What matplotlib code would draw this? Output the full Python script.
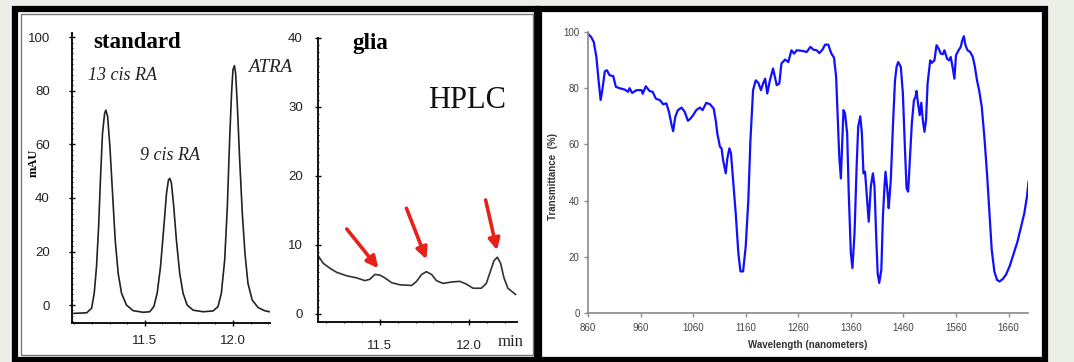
import matplotlib
matplotlib.use("Agg")
import matplotlib.pyplot as plt
from matplotlib.patches import Rectangle
from matplotlib.ticker import MultipleLocator

# ---------------- data ----------------
# HPLC "standard" chromatogram (time in min, signal in mAU)
std_time = [11.098, 11.17, 11.198, 11.213, 11.226, 11.238, 11.249, 11.26, 11.272, 11.279,
            11.289, 11.302, 11.317, 11.332, 11.349, 11.368, 11.396, 11.434, 11.49, 11.528,
            11.551, 11.57, 11.589, 11.608, 11.623, 11.634, 11.642, 11.651, 11.664, 11.679,
            11.698, 11.717, 11.74, 11.774, 11.83, 11.887, 11.915, 11.934, 11.953, 11.968,
            11.981, 11.992, 12.0, 12.008, 12.015, 12.025, 12.038, 12.053, 12.068, 12.085,
            12.109, 12.142, 12.179, 12.208]
std_mau = [-3.1, -2.9, -1.2, 4.4, 14.3, 29.3, 48.0, 64.1, 71.6, 72.8,
           70.4, 59.2, 41.7, 24.3, 11.8, 4.4, 0.0, -2.1, -2.7, -2.5,
           -0.6, 4.4, 14.3, 29.3, 41.7, 46.7, 47.3, 45.5, 36.8, 24.3,
           11.8, 4.4, 0.0, -1.9, -2.5, -2.2, -0.6, 4.4, 16.8, 36.8,
           61.7, 79.2, 87.9, 89.4, 86.6, 74.2, 54.2, 34.2, 19.3, 8.1,
           1.9, -0.9, -2.1, -2.5]
std_labels = ["13 cis RA", "9 cis RA", "ATRA"]

# HPLC "glia" chromatogram
glia_time = [11.157, 11.183, 11.22, 11.258, 11.314, 11.37, 11.416, 11.444, 11.472, 11.5,
             11.528, 11.566, 11.612, 11.678, 11.706, 11.734, 11.761, 11.79, 11.817, 11.854,
             11.901, 11.948, 11.985, 12.022, 12.069, 12.097, 12.119, 12.14, 12.159, 12.177,
             12.196, 12.218, 12.246, 12.261]
glia_mau = [8.3, 7.3, 6.6, 6.0, 5.5, 5.2, 4.8, 5.0, 5.7, 5.6,
            5.2, 4.5, 4.2, 4.1, 4.7, 5.7, 6.1, 5.7, 4.8, 4.4,
            4.6, 4.7, 4.3, 3.7, 3.7, 4.4, 6.1, 7.7, 8.2, 7.3,
            5.2, 3.7, 3.1, 2.8]
# arrows: (tail time, tail mAU, head time, head mAU)
arrow_tail_t = [11.314, 11.649, 12.093]
arrow_tail_y = [12.3, 15.3, 16.5]
arrow_head_t = [11.491, 11.761, 12.157]
arrow_head_y = [6.6, 7.9, 9.2]

# NIR transmittance spectrum
wl = [860, 866, 871, 876, 880, 884, 887, 892, 896, 901, 908, 913, 920, 930, 936, 939, 944,
      952, 962, 964, 970, 977, 983, 989, 997, 1003, 1009, 1014, 1019, 1022, 1026, 1031,
      1038, 1044, 1050, 1055, 1060, 1066, 1073, 1078, 1085, 1092, 1099, 1103, 1106, 1111,
      1114, 1117, 1122, 1125, 1129, 1132, 1136, 1141, 1146, 1150, 1155, 1160, 1165, 1169,
      1174, 1179, 1184, 1189, 1193, 1197, 1201, 1206, 1212, 1219, 1224, 1228, 1235, 1241,
      1247, 1252, 1257, 1267, 1276, 1283, 1289, 1295, 1300, 1306, 1311, 1317, 1323, 1328,
      1332, 1335, 1338, 1341, 1343, 1346, 1349, 1353, 1356, 1360, 1363, 1367, 1371, 1374,
      1378, 1381, 1384, 1387, 1390, 1394, 1398, 1402, 1405, 1408, 1411, 1414, 1418, 1421,
      1424, 1426, 1430, 1432, 1436, 1440, 1444, 1447, 1450, 1455, 1459, 1463, 1466, 1469,
      1473, 1476, 1480, 1483, 1485, 1487, 1491, 1494, 1497, 1500, 1503, 1506, 1511, 1514,
      1519, 1523, 1527, 1531, 1535, 1538, 1543, 1547, 1550, 1554, 1557, 1560, 1565, 1569,
      1572, 1575, 1578, 1582, 1587, 1592, 1596, 1600, 1604, 1609, 1614, 1619, 1624, 1628,
      1633, 1638, 1643, 1649, 1655, 1662, 1670, 1677, 1684, 1690, 1695, 1698]
trans = [99.4, 98.2, 96.4, 91.0, 83.0, 75.8, 79.0, 86.0, 86.4, 84.6, 84.3, 80.5, 80.0, 79.5,
         78.7, 80.0, 78.3, 79.3, 79.3, 78.0, 80.7, 79.0, 78.7, 76.3, 75.7, 74.3, 74.6, 71.6,
         66.9, 64.7, 69.8, 72.2, 73.1, 71.6, 68.4, 69.2, 70.4, 72.2, 73.1, 72.2, 74.8, 74.3,
         72.8, 68.6, 63.9, 59.2, 58.6, 54.4, 49.7, 55.0, 58.6, 56.8, 47.3, 35.5, 21.3, 14.8,
         14.8, 23.7, 40.2, 61.5, 79.3, 82.8, 81.9, 79.3, 81.7, 83.4, 78.1, 82.8, 87.0, 81.1,
         81.7, 88.8, 90.2, 89.3, 93.5, 92.3, 93.5, 93.3, 92.9, 94.7, 93.7, 93.5, 92.5, 93.7,
         95.5, 95.5, 92.3, 90.9, 84.0, 69.8, 55.6, 47.9, 58.0, 72.2, 71.0, 63.9, 42.6, 21.3,
         16.0, 28.4, 52.0, 66.3, 70.0, 63.9, 49.7, 50.3, 42.6, 32.5, 45.0, 49.7, 45.0, 28.4,
         14.2, 10.7, 15.4, 34.3, 45.0, 50.3, 42.6, 37.3, 47.3, 66.3, 82.8, 87.6, 89.3, 87.6,
         78.1, 58.0, 44.4, 43.2, 56.8, 67.5, 75.7, 76.9, 79.0, 75.7, 70.4, 74.8, 68.6, 64.5,
         68.6, 81.7, 89.9, 89.0, 89.9, 95.3, 94.1, 92.3, 92.1, 93.5, 90.5, 89.9, 91.1, 87.0,
         83.4, 91.7, 93.5, 94.7, 97.0, 98.5, 95.3, 93.5, 92.9, 91.1, 87.6, 82.8, 79.3, 73.4,
         62.7, 49.7, 34.3, 22.5, 14.8, 11.8, 11.2, 12.1, 13.6, 16.6, 21.3, 25.4, 30.8, 35.5,
         41.4, 46.7]
wl_ticks = [860, 960, 1060, 1160, 1260, 1360, 1460, 1560, 1660]
trans_ticks = [0, 20, 40, 60, 80, 100]

# ---------------- figure ----------------
W, H = 1074, 362
fig = plt.figure(figsize=(W / 100, H / 100), dpi=100)
fig.patch.set_facecolor("#eceee8")


def rect(x0, y0, x1, y1):
    """figure fraction rect from pixel box (top-left origin)"""
    return [x0 / W, 1 - y1 / H, (x1 - x0) / W, (y1 - y0) / H]


# background / panel frames (pixel coordinates)
bg = fig.add_axes([0, 0, 1, 1])
bg.set_xlim(0, W)
bg.set_ylim(H, 0)
bg.axis("off")
bg.add_patch(Rectangle((15, 8.5), 522, 351, facecolor="white", edgecolor="black", lw=4.5))
bg.add_patch(Rectangle((21, 14), 512, 341, facecolor="none", edgecolor="#777777", lw=1.0))
bg.add_patch(Rectangle((539, 8.5), 506, 351, facecolor="white", edgecolor="black", lw=4.5))

serif = ["Liberation Serif", "DejaVu Serif"]
sans = ["Liberation Sans", "DejaVu Sans"]

# ---------------- standard chromatogram ----------------
ax1 = fig.add_axes(rect(72, 33, 270, 323))
ax1.set_facecolor("none")
ax1.plot(std_time, std_mau, color="#222222", lw=1.2)
ax1.set_xlim(11.087, 12.21)
ax1.set_ylim(-6.7, 101.6)
for s in ["top", "right"]:
    ax1.spines[s].set_visible(False)
for s in ["left", "bottom"]:
    ax1.spines[s].set_linewidth(1.4)
    ax1.spines[s].set_color("#111111")
ax1.xaxis.set_minor_locator(MultipleLocator(0.1))
ax1.yaxis.set_major_locator(MultipleLocator(20))
ax1.yaxis.set_minor_locator(MultipleLocator(2))
ax1.set_xticks([11.5, 12.0])
ax1.set_xticklabels(["11.5", "12.0"])
ax1.tick_params(axis="y", which="major", direction="inout", length=4, width=1, pad=14,
                labelsize=9.5, labelcolor="#222222")
ax1.tick_params(axis="y", which="minor", direction="inout", length=2, width=0.7)
ax1.tick_params(axis="x", which="major", direction="inout", length=4, width=1, pad=7,
                labelsize=9.5, labelcolor="#222222")
ax1.tick_params(axis="x", which="minor", direction="inout", length=2, width=0.7)
for lab in ax1.get_xticklabels() + ax1.get_yticklabels():
    lab.set_family(sans)

# ---------------- glia chromatogram ----------------
ax2 = fig.add_axes(rect(318, 38, 517, 322))
ax2.set_facecolor("none")
ax2.plot(glia_time, glia_mau, color="#333333", lw=1.2)
ax2.set_xlim(11.153, 12.269)
ax2.set_ylim(-1.2, 40)
for s in ["top", "right"]:
    ax2.spines[s].set_visible(False)
for s in ["left", "bottom"]:
    ax2.spines[s].set_linewidth(1.4)
    ax2.spines[s].set_color("#111111")
ax2.set_xticks([11.5, 12.0])
ax2.set_xticklabels(["11.5", "12.0"])
ax2.xaxis.set_minor_locator(MultipleLocator(0.1))
ax2.set_yticks([0, 10, 20, 30, 40])
ax2.yaxis.set_minor_locator(MultipleLocator(1))
ax2.tick_params(axis="y", which="major", direction="inout", length=4, width=1, pad=9,
                labelsize=9.5, labelcolor="#222222")
ax2.tick_params(axis="y", which="minor", direction="inout", length=2, width=0.7)
ax2.tick_params(axis="x", which="major", direction="inout", length=4, width=1, pad=11,
                labelsize=9.5, labelcolor="#222222")
ax2.tick_params(axis="x", which="minor", direction="inout", length=2, width=0.7)
for lab in ax2.get_xticklabels() + ax2.get_yticklabels():
    lab.set_family(sans)
for tt, ty, ht, hy in zip(arrow_tail_t, arrow_tail_y, arrow_head_t, arrow_head_y):
    ax2.annotate("", xy=(ht, hy), xytext=(tt, ty),
                 arrowprops=dict(arrowstyle="-|>", color="#e8201a", lw=2.6,
                                 mutation_scale=17, shrinkA=0, shrinkB=0))

# texts on left panel (pixel coords)
bg.text(93, 43, "standard", family=serif, weight="bold", fontsize=16.5, va="center", ha="left")
bg.text(88, 75, std_labels[0], family=serif, style="italic", fontsize=13, va="center", ha="left",
        color="#222222")
bg.text(140, 155, std_labels[1], family=serif, style="italic", fontsize=13, va="center", ha="left",
        color="#222222")
bg.text(248, 67, std_labels[2], family=serif, style="italic", fontsize=13.5, va="center", ha="left",
        color="#222222")
bg.text(34, 163, "mAU", family=serif, weight="bold", fontsize=9, rotation=90, va="center",
        ha="center")
bg.text(352, 43, "glia", family=serif, weight="bold", fontsize=16.5, va="center", ha="left")
bg.text(428, 101, "HPLC", family=serif, fontsize=22, va="center", ha="left", color="#111111")
bg.text(498, 342, "min", family=serif, fontsize=12, va="center", ha="left", color="#222222")

# ---------------- NIR spectrum ----------------
ax3 = fig.add_axes(rect(588, 32, 1028, 313))
ax3.set_facecolor("none")
ax3.plot(wl, trans, color="#1010ff", lw=1.6)
ax3.set_xlim(860, 1697)
ax3.set_ylim(0, 100)
for s in ["top", "right"]:
    ax3.spines[s].set_visible(False)
for s in ["left", "bottom"]:
    ax3.spines[s].set_linewidth(1.2)
    ax3.spines[s].set_color("#8a8a8a")
ax3.set_xticks(wl_ticks)
ax3.set_yticks(trans_ticks)
ax3.tick_params(axis="both", direction="out", length=3, width=1, color="#8a8a8a",
                labelsize=7, labelcolor="#444444")
ax3.tick_params(axis="x", pad=4)
ax3.tick_params(axis="y", pad=3)
for lab in ax3.get_xticklabels() + ax3.get_yticklabels():
    lab.set_family(sans)
bg.text(808, 345, "Wavelength (nanometers)", family=sans, weight="bold", fontsize=7,
        color="#333333", va="center", ha="center")
bg.text(553, 177, "Transmittance  (%)", family=sans, weight="bold", fontsize=7,
        color="#333333", va="center", ha="center", rotation=90)

fig.savefig("out.png", dpi=100, facecolor=fig.get_facecolor())
